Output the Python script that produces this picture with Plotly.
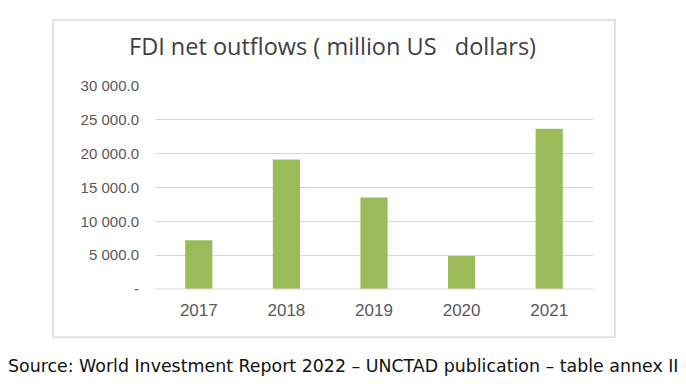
import plotly.graph_objects as go

years = ["2017", "2018", "2019", "2020", "2021"]
outflows = [7200, 19150, 13530, 4880, 23680]
tick_vals = [0, 5000, 10000, 15000, 20000, 25000, 30000]
tick_text = ["-", "5 000.0", "10 000.0", "15 000.0", "20 000.0", "25 000.0", "30 000.0"]

OFF = 8  # page body margin
W, H = 686 - OFF, 390 - OFF
L, R, T, B = 155 - OFF, 593 - OFF, 86 - OFF, 288.7 - OFF

def px(x):
    return (x - OFF - L) / (R - L)

def py(y):
    return (B - (y - OFF)) / (B - T)

fig = go.Figure(go.Bar(x=years, y=outflows, marker=dict(color="#9bbb59", line=dict(width=0)), width=0.31))

fig.update_layout(
    width=W, height=H,
    margin=dict(l=L, r=W - R, t=T, b=H - B, pad=0),
    paper_bgcolor="white", plot_bgcolor="white",
    showlegend=False,
    font=dict(family="Liberation Sans, Arial", color="#595959", size=12),
    xaxis=dict(showgrid=False, showline=False, ticks="", tickfont=dict(size=17, color="#595959"),
               ticklabelstandoff=9),
    yaxis=dict(range=[0, 30000], tickvals=tick_vals, ticktext=tick_text, showgrid=True,
               gridcolor="#d9d9d9", gridwidth=1, zeroline=False, showline=False, ticks="",
               tickfont=dict(size=15, color="#595959"), ticklabelstandoff=15),
    shapes=[
        dict(type="line", xref="paper", yref="paper", x0=0, x1=1, y0=0, y1=0,
             line=dict(color="#d9d9d9", width=1)),
        dict(type="rect", xref="paper", yref="paper", x0=px(53), x1=px(615), y0=py(337), y1=py(20),
             line=dict(color="#d9d9d9", width=1.5), fillcolor="rgba(0,0,0,0)", layer="below"),
    ],
    annotations=[
        dict(text="FDI net outflows ( million US \u00a0\u00a0dollars)", xref="paper", yref="paper",
             x=px(332), y=py(46), xanchor="center", yanchor="middle", showarrow=False,
             font=dict(family="Open Sans", size=23.5, color="#404040")),
        dict(text="Source: World Investment Report 2022 \u2013 UNCTAD publication \u2013 table annex II",
             xref="paper", yref="paper", x=px(343), y=py(366), xanchor="center", yanchor="middle",
             showarrow=False, font=dict(family="DejaVu Sans", size=17.4, color="#111111")),
    ],
)

fig.write_html("out.html")
